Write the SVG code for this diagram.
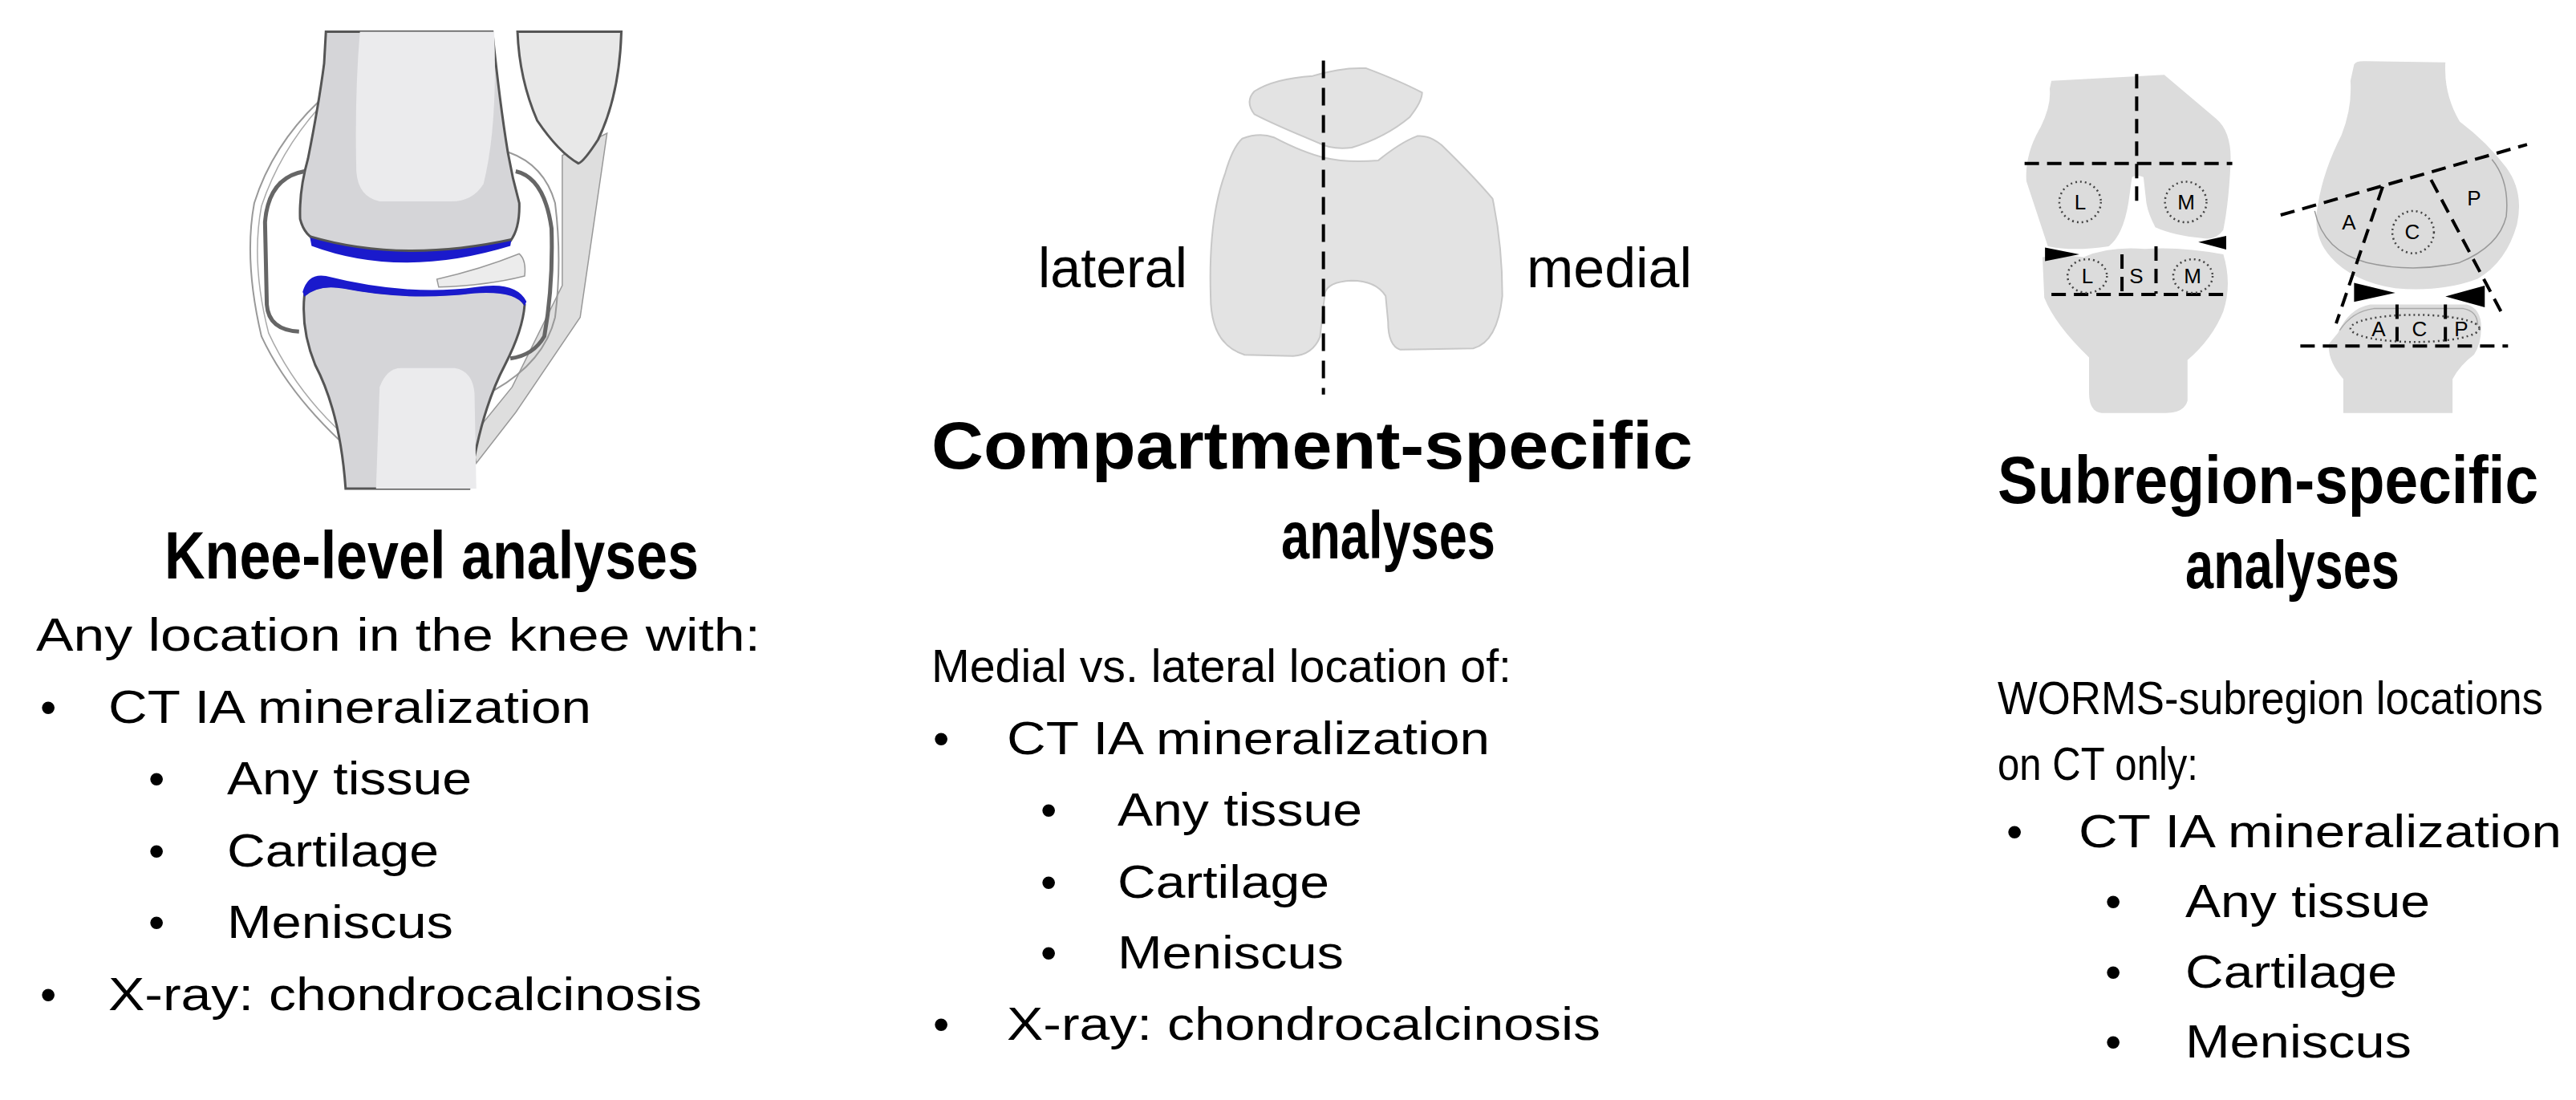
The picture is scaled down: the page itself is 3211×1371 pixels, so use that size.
<svg xmlns="http://www.w3.org/2000/svg" width="3211" height="1371" viewBox="0 0 3211 1371">
<style>
text{font-family:"Liberation Sans",Arial,sans-serif;fill:#000}
.t{font-weight:bold;font-size:84px}
.b{font-size:58px}
.lab{font-size:70px}
.sm{font-size:26px}
.ns{vector-effect:non-scaling-stroke}
.dash{fill:none;stroke:#000;stroke-width:4;stroke-dasharray:18 10;vector-effect:non-scaling-stroke}
.dot{fill:none;stroke:#444;stroke-width:2.5;stroke-dasharray:2 4;vector-effect:non-scaling-stroke}
</style>
<rect width="3211" height="1371" fill="#fff"/>

<g id="knee-figure" transform="translate(250,0) scale(0.4464,0.3954)">
  <path d="M1010,490 L1135,420 L1060,1000 L880,1300 L770,1460 L755,1380 L870,1220 L1010,900 Z" fill="#dedede" stroke="#999" stroke-width="1.5" class="ns"/>
  <path d="M885,100 L1175,100 Q1170,300 1110,440 Q1070,510 1055,515 Q1000,480 940,380 Q890,250 885,100 Z" fill="#e8e8e8" stroke="#555" stroke-width="3" class="ns"/>
  <path d="M330,320 Q200,460 150,640 Q120,820 170,1060 Q240,1230 390,1390" fill="none" stroke="#999" stroke-width="2" class="ns"/>
  <path d="M330,340 Q220,480 170,650 Q140,830 190,1050 Q260,1220 380,1350" fill="none" stroke="#aaa" stroke-width="1.5" class="ns"/>
  <path d="M860,480 Q960,520 990,640 Q1010,820 990,1000 Q960,1140 820,1230" fill="none" stroke="#999" stroke-width="2" class="ns"/>
  <path d="M350,100 L345,200 Q330,330 300,500 Q275,600 278,690 Q290,745 330,760 Q560,840 865,760 Q892,720 890,640 Q870,560 858,480 Q835,320 815,100 Z" fill="#d5d5d8" stroke="#555" stroke-width="3" class="ns"/>
  <path d="M445,100 L820,100 Q830,400 790,580 Q760,635 700,635 L500,635 Q440,620 435,540 Q430,300 445,100 Z" fill="#ebebed"/>
  <path d="M305,745 Q560,830 868,755 L865,775 Q560,880 310,775 Z" fill="#1a1acc"/>
  <path d="M305,745 Q560,830 868,755" fill="none" stroke="#555" stroke-width="3" class="ns"/>
  <path d="M660,880 Q780,850 890,800 Q910,820 905,870 Q800,900 665,905 Z" fill="#ececec" stroke="#999" stroke-width="1.5" class="ns"/>
  <path d="M290,930 Q330,890 400,905 Q580,945 760,920 Q880,905 905,960 Q900,1040 850,1150 Q780,1300 750,1540 L405,1540 Q390,1300 320,1150 Q280,1040 290,930 Z" fill="#d5d5d8" stroke="#555" stroke-width="3" class="ns"/>
  <path d="M285,920 Q300,860 350,870 Q580,935 770,905 Q880,885 910,950 L905,965 Q880,915 760,925 Q580,950 400,910 Q330,895 290,935 Z" fill="#1a1acc"/>
  <path d="M490,1540 L500,1220 Q520,1160 560,1160 L710,1160 Q760,1170 765,1240 L770,1540 Z" fill="#ebebed"/>
  <path d="M290,540 Q190,560 180,700 L185,960 Q190,1040 275,1045" fill="none" stroke="#666" stroke-width="5" class="ns"/>
  <path d="M880,540 Q960,560 980,720 Q985,900 960,1060 Q930,1120 865,1130" fill="none" stroke="#666" stroke-width="5" class="ns"/>
</g>

<g id="compartment-figure" transform="translate(1200,50) scale(0.606,0.3189)">
  <path d="M600,200 Q640,150 720,140 Q780,105 830,110 Q900,160 945,205 Q945,240 920,300 Q870,380 800,420 Q760,430 730,400 Q640,330 600,290 Q580,240 600,200 Z" fill="#e3e3e3" stroke="#c8c8c8" stroke-width="2" class="ns"/>
  <path d="M575,385 Q610,360 640,380 Q700,440 745,460 Q790,480 855,470 Q900,400 935,375 Q960,370 985,410 Q1050,530 1090,620 Q1110,800 1110,1000 Q1100,1180 1050,1205 L900,1210 Q875,1195 875,1100 L870,1000 Q850,940 800,940 Q750,945 745,990 L735,1160 Q720,1230 680,1235 L580,1230 Q510,1190 510,1000 Q505,700 540,520 Q555,420 575,385 Z" fill="#e3e3e3" stroke="#c8c8c8" stroke-width="2" class="ns"/>
  <line x1="742" y1="80" x2="742" y2="1385" stroke="#000" stroke-width="4" stroke-dasharray="22 12" class="ns"/>
</g>
<text class="lab" x="1294" y="358" textLength="186" lengthAdjust="spacingAndGlyphs">lateral</text>
<text class="lab" x="1903" y="358" textLength="206" lengthAdjust="spacingAndGlyphs">medial</text>

<g id="subregion-figure">
 <g transform="translate(2450,50) scale(0.4464,0.338)">
  <path d="M240,150 L555,128 L700,290 Q745,340 740,460 Q735,600 720,700 Q700,740 660,730 Q580,720 530,690 Q510,640 505,600 L497,505 Q480,495 465,505 L455,600 Q440,720 400,760 Q300,780 230,760 Q200,640 170,520 Q165,420 210,320 Q240,240 235,180 Z" fill="#dcdcdc"/>
  <path d="M215,800 Q280,790 330,800 Q400,760 500,770 Q600,760 720,790 Q745,900 720,1000 Q690,1100 620,1180 L620,1330 Q610,1375 560,1375 L380,1375 Q345,1370 345,1300 L345,1170 Q250,1050 220,950 Z" fill="#dcdcdc"/>
  <line x1="478" y1="125" x2="478" y2="600" class="dash"/>
  <line x1="165" y1="455" x2="745" y2="455" class="dash"/>
  <line x1="240" y1="938" x2="730" y2="938" class="dash"/>
  <line x1="437" y1="790" x2="437" y2="935" class="dash"/>
  <line x1="532" y1="760" x2="532" y2="935" class="dash"/>
  <ellipse cx="320" cy="597" rx="58" ry="75" class="dot"/>
  <ellipse cx="615" cy="597" rx="58" ry="75" class="dot"/>
  <ellipse cx="340" cy="870" rx="55" ry="62" class="dot"/>
  <ellipse cx="635" cy="870" rx="55" ry="62" class="dot"/>
  <polygon points="222,765 222,815 318,790" fill="#000"/>
  <polygon points="728,722 728,772 650,745" fill="#000"/>
  <path d="M1085,90 Q1090,75 1120,78 L1340,82 Q1335,200 1380,300 Q1460,380 1510,470 Q1560,560 1540,680 Q1510,820 1430,880 Q1330,930 1200,915 Q1080,890 1020,800 Q965,720 985,600 Q1000,480 1050,350 Q1080,250 1075,150 Z" fill="#dcdcdc"/>
  <path d="M975,630 Q1000,780 1120,820 Q1250,860 1380,820 Q1490,760 1510,650 Q1520,520 1470,440" fill="none" stroke="#999" stroke-width="1.5" class="ns"/>
  <path d="M1040,1080 Q1070,990 1130,975 L1400,975 Q1440,990 1440,1060 Q1440,1120 1420,1160 Q1380,1200 1360,1250 L1360,1375 L1055,1375 L1055,1250 Q1010,1180 1015,1120 Z" fill="#dcdcdc"/>
  <path d="M1045,1070 Q1080,1000 1140,990 L1390,990 Q1430,1000 1430,1050" fill="none" stroke="#aaa" stroke-width="1.5" class="ns"/>
  <line x1="880" y1="645" x2="1568" y2="385" class="dash"/>
  <line x1="1165" y1="540" x2="1035" y2="1045" class="dash"/>
  <line x1="1300" y1="515" x2="1495" y2="1000" class="dash"/>
  <line x1="935" y1="1128" x2="1515" y2="1128" class="dash"/>
  <line x1="1205" y1="975" x2="1205" y2="1128" class="dash"/>
  <line x1="1340" y1="975" x2="1340" y2="1128" class="dash"/>
  <ellipse cx="1250" cy="708" rx="58" ry="78" class="dot"/>
  <ellipse cx="1255" cy="1063" rx="180" ry="50" class="dot"/>
  <polygon points="1085,895 1085,965 1200,932" fill="#000"/>
  <polygon points="1450,905 1450,985 1340,945" fill="#000"/>
 </g>
 <g text-anchor="middle" class="sm">
  <text x="2593" y="261" class="sm">L</text>
  <text x="2725" y="261" class="sm">M</text>
  <text x="2602" y="353" class="sm">L</text>
  <text x="2663" y="353" class="sm">S</text>
  <text x="2733" y="353" class="sm">M</text>
  <text x="2928" y="286" class="sm">A</text>
  <text x="3007" y="298" class="sm">C</text>
  <text x="3084" y="256" class="sm">P</text>
  <text x="2965" y="419" class="sm">A</text>
  <text x="3016" y="419" class="sm">C</text>
  <text x="3068" y="419" class="sm">P</text>
 </g>
</g>

<g id="knee-level-text">
  <text class="t" x="205" y="721" textLength="666" lengthAdjust="spacingAndGlyphs">Knee-level analyses</text>
  <text class="b" x="45" y="811" textLength="903" lengthAdjust="spacingAndGlyphs">Any location in the knee with:</text>
  <text class="b" x="50" y="901">•</text>
  <text class="b" x="135" y="901" textLength="602" lengthAdjust="spacingAndGlyphs">CT IA mineralization</text>
  <text class="b" x="185" y="990">•</text>
  <text class="b" x="283" y="990" textLength="305" lengthAdjust="spacingAndGlyphs">Any tissue</text>
  <text class="b" x="185" y="1080">•</text>
  <text class="b" x="283" y="1080" textLength="264" lengthAdjust="spacingAndGlyphs">Cartilage</text>
  <text class="b" x="185" y="1169">•</text>
  <text class="b" x="283" y="1169" textLength="282" lengthAdjust="spacingAndGlyphs">Meniscus</text>
  <text class="b" x="50" y="1259">•</text>
  <text class="b" x="135" y="1259" textLength="740" lengthAdjust="spacingAndGlyphs">X-ray: chondrocalcinosis</text>
</g>

<g id="compartment-text">
  <text class="t" x="1161" y="584" textLength="949" lengthAdjust="spacingAndGlyphs">Compartment-specific</text>
  <text class="t" x="1597" y="696" textLength="267" lengthAdjust="spacingAndGlyphs">analyses</text>
  <text class="b" x="1161" y="850" textLength="723" lengthAdjust="spacingAndGlyphs">Medial vs. lateral location of:</text>
  <text class="b" x="1163" y="940">•</text>
  <text class="b" x="1255" y="940" textLength="602" lengthAdjust="spacingAndGlyphs">CT IA mineralization</text>
  <text class="b" x="1297" y="1029">•</text>
  <text class="b" x="1393" y="1029" textLength="305" lengthAdjust="spacingAndGlyphs">Any tissue</text>
  <text class="b" x="1297" y="1119">•</text>
  <text class="b" x="1393" y="1119" textLength="264" lengthAdjust="spacingAndGlyphs">Cartilage</text>
  <text class="b" x="1297" y="1207">•</text>
  <text class="b" x="1393" y="1207" textLength="282" lengthAdjust="spacingAndGlyphs">Meniscus</text>
  <text class="b" x="1163" y="1296">•</text>
  <text class="b" x="1255" y="1296" textLength="740" lengthAdjust="spacingAndGlyphs">X-ray: chondrocalcinosis</text>
</g>

<g id="subregion-text">
  <text class="t" transform="translate(2490,627) scale(0.85,1)" textLength="793" lengthAdjust="spacingAndGlyphs">Subregion-specific</text>
  <text class="t" x="2724" y="733" textLength="267" lengthAdjust="spacingAndGlyphs">analyses</text>
  <text class="b" transform="translate(2490,890) scale(0.85,1)" textLength="800" lengthAdjust="spacingAndGlyphs">WORMS-subregion locations</text>
  <text class="b" x="2490" y="972" textLength="250" lengthAdjust="spacingAndGlyphs">on CT only:</text>
  <text class="b" x="2501" y="1056">•</text>
  <text class="b" x="2591" y="1056" textLength="602" lengthAdjust="spacingAndGlyphs">CT IA mineralization</text>
  <text class="b" x="2624" y="1143">•</text>
  <text class="b" x="2724" y="1143" textLength="305" lengthAdjust="spacingAndGlyphs">Any tissue</text>
  <text class="b" x="2624" y="1231">•</text>
  <text class="b" x="2724" y="1231" textLength="264" lengthAdjust="spacingAndGlyphs">Cartilage</text>
  <text class="b" x="2624" y="1318">•</text>
  <text class="b" x="2724" y="1318" textLength="282" lengthAdjust="spacingAndGlyphs">Meniscus</text>
</g>
</svg>
